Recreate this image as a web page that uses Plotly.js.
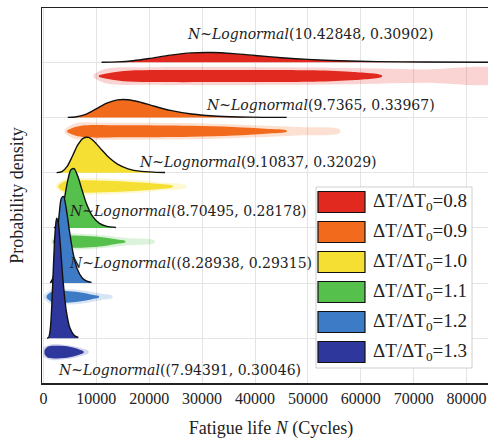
<!DOCTYPE html>
<html><head><meta charset="utf-8">
<script src="https://cdn.plot.ly/plotly-3.0.1.min.js"></script>
<style>html,body{margin:0;padding:0;overflow:hidden;background:#fff}#chart{width:500px;height:440px}</style>
</head><body><div id="chart"></div><script>
// ---- categories ----
const ratios = ['0.8', '0.9', '1.0', '1.1', '1.2', '1.3'];
const fitLabels = [
  '<i>N</i>~<i>Lognormal</i>(10.42848, 0.30902)',
  '<i>N</i>~<i>Lognormal</i>(9.7365, 0.33967)',
  '<i>N</i>~<i>Lognormal</i>(9.10837, 0.32029)',
  '<i>N</i>~<i>Lognormal</i>(8.70495, 0.28178)',
  '<i>N</i>~<i>Lognormal</i>((8.28938, 0.29315)',
  '<i>N</i>~<i>Lognormal</i>((7.94391, 0.30046)'
];
const xTicks = [0, 10000, 20000, 30000, 40000, 50000, 60000, 70000, 80000];

// ---- density curves (fatigue life, density x 1e-5) ----
const life_08 = [11000, 14000, 17000, 20000, 24000, 28000, 32000, 36000, 40000, 45000, 50000, 56000, 63000, 72000, 86000];
const dens_08 = [0.02, 0.16, 0.64, 1.52, 2.91, 3.83, 3.97, 3.51, 2.78, 1.87, 1.16, 0.61, 0.27, 0.09, 0.02];
const life_09 = [4600, 6000, 8000, 10000, 12000, 14000, 16000, 18000, 21000, 24000, 28000, 33000, 39000, 46000];
const dens_09 = [0.02, 0.19, 1.29, 3.54, 5.86, 7.18, 7.24, 6.42, 4.57, 2.88, 1.40, 0.52, 0.15, 0.03];
const life_10 = [2500, 3500, 4500, 5500, 6500, 7500, 8500, 9500, 11000, 12500, 14000, 16000, 18500, 23000];
const dens_10 = [0.02, 0.45, 2.60, 6.83, 11.31, 14.04, 14.39, 12.95, 9.37, 5.95, 3.49, 1.58, 0.55, 0.08];
const life_11 = [2000, 2800, 3400, 4000, 4600, 5200, 5800, 6500, 7300, 8200, 9300, 10600, 12000, 13700];
const dens_11 = [0.03, 1.24, 5.25, 12.22, 19.37, 23.70, 24.17, 21.03, 15.43, 9.54, 4.68, 1.81, 0.60, 0.15];
const life_12 = [1300, 1800, 2200, 2600, 3000, 3400, 3800, 4300, 4900, 5600, 6400, 7300, 8200, 9100];
const dens_12 = [0.07, 1.93, 7.99, 18.20, 28.47, 34.62, 35.36, 30.58, 21.61, 12.35, 5.73, 2.20, 0.80, 0.28];
const life_13 = [700, 1000, 1300, 1600, 1900, 2200, 2500, 2800, 3200, 3700, 4300, 5000, 5800, 6600];
const dens_13 = [0.00, 0.35, 3.71, 14.06, 29.54, 42.97, 49.05, 47.41, 37.95, 23.81, 11.49, 4.30, 1.28, 0.36];

// ---- sample "rain" (relative spread of the jittered samples along life) ----
const rainX_08 = [10500, 13000, 16000, 22000, 35000, 50000, 58000, 64000];
const rainS_08 = [0.15, 0.6, 0.9, 1, 1, 0.95, 0.7, 0.1];
const haloX_08 = [9500, 12000, 20000, 45000, 60000, 72000, 86000];
const haloS_08 = [0.3, 1.25, 1.45, 1.45, 1.3, 1.1, 1.0];
const rainX_09 = [4500, 6000, 8000, 15000, 28000, 36000, 42000, 46000];
const rainS_09 = [0.15, 0.7, 1, 1, 0.9, 0.7, 0.4, 0.1];
const haloX_09 = [4000, 6000, 12000, 30000, 40000, 48000, 56000];
const haloS_09 = [0.3, 1.3, 1.4, 1.3, 1.0, 0.7, 0.3];
const rainX_10 = [2800, 3800, 5500, 10000, 16000, 21000, 24500];
const rainS_10 = [0.15, 0.8, 1, 1, 0.8, 0.5, 0.1];
const haloX_10 = [2400, 4000, 9000, 17000, 22000, 27000];
const haloS_10 = [0.3, 1.3, 1.4, 1.1, 0.7, 0.2];
const rainX_11 = [1800, 2800, 4500, 8000, 11500, 14000, 15500];
const rainS_11 = [0.15, 0.8, 1, 0.95, 0.7, 0.35, 0.1];
const haloX_11 = [1500, 3000, 7000, 12000, 16000, 21000];
const haloS_11 = [0.3, 1.3, 1.3, 1.0, 0.6, 0.2];
const rainX_12 = [600, 1500, 3000, 5500, 8000, 9500, 10500];
const rainS_12 = [0.2, 0.8, 1, 0.9, 0.6, 0.3, 0.1];
const haloX_12 = [100, 1500, 4000, 8000, 11000, 13000];
const haloS_12 = [0.3, 1.2, 1.3, 1.0, 0.5, 0.2];
const rainX_13 = [200, 800, 2000, 4000, 5800, 7000, 7600];
const rainS_13 = [0.3, 0.9, 1.05, 1, 0.7, 0.35, 0.1];
const haloX_13 = [0, 1500, 4000, 6500, 8500];
const haloS_13 = [0.8, 1.3, 1.2, 0.8, 0.2];

// ---- styling ----
const colors = ['#E2291F', '#F26B1D', '#F6DF33', '#56C04C', '#3E7BC6', '#2E379C'];
const haloColors = ['rgba(226,41,31,0.2)', 'rgba(242,107,29,0.2)', 'rgba(246,223,51,0.22)',
                    'rgba(86,192,76,0.2)', 'rgba(62,123,198,0.2)', 'rgba(46,55,156,0.2)'];
const SERIF = '"Liberation Serif", "Times New Roman", serif';
const LABEL_FONT = '"DejaVu Serif", serif';
const S = 0.04438;   // ridge units per 1e-5 density
const H = 0.109;     // ridge units per unit rain spread
const RAIN_OFF = 0.25;

const lifes = [life_08, life_09, life_10, life_11, life_12, life_13];
const denss = [dens_08, dens_09, dens_10, dens_11, dens_12, dens_13];
const rainXs = [rainX_08, rainX_09, rainX_10, rainX_11, rainX_12, rainX_13];
const rainSs = [rainS_08, rainS_09, rainS_10, rainS_11, rainS_12, rainS_13];
const haloXs = [haloX_08, haloX_09, haloX_10, haloX_11, haloX_12, haloX_13];
const haloSs = [haloS_08, haloS_09, haloS_10, haloS_11, haloS_12, haloS_13];

function band(xs, sp, c) {
  const X = xs.concat(xs.slice().reverse());
  const up = xs.map((x, i) => c + sp[i] * H);
  const lo = xs.map((x, i) => c - sp[i] * H).reverse();
  return {X: X, Y: up.concat(lo)};
}

const traces = [];
ratios.forEach((r, i) => {
  const base = ratios.length - 1 - i;
  const c = base - RAIN_OFF;
  const hb = band(haloXs[i], haloSs[i], c);
  traces.push({x: hb.X, y: hb.Y, mode: 'lines', fill: 'toself', fillcolor: haloColors[i],
    line: {width: 0, shape: 'spline'}, showlegend: false, hoverinfo: 'skip'});
  const rb = band(rainXs[i], rainSs[i], c);
  traces.push({x: rb.X, y: rb.Y, mode: 'lines', fill: 'toself', fillcolor: colors[i],
    line: {width: 0, shape: 'spline'}, showlegend: false, hoverinfo: 'skip'});
  const L = lifes[i];
  traces.push({x: [L[0], L[L.length - 1]], y: [base, base], mode: 'lines',
    line: {width: 0}, showlegend: false, hoverinfo: 'skip'});
  traces.push({x: L, y: denss[i].map(d => base + d * S), mode: 'lines', fill: 'tonexty',
    fillcolor: colors[i], line: {color: '#111', width: 1.4, shape: 'spline', smoothing: 0.8},
    name: 'ΔT/ΔT0=' + r, showlegend: false});
});

// label positions (data coords)
const labelPos = [[26800, 5.51], [30300, 4.23], [17700, 3.19], [4450, 2.31], [4450, 1.36], [2370, -0.57]];
const annotations = fitLabels.map((t, i) => ({
  x: labelPos[i][0], y: labelPos[i][1], xref: 'x', yref: 'y', text: t, showarrow: false,
  xanchor: 'left', yanchor: 'middle', font: {family: LABEL_FONT, size: 14, color: '#222'}
}));

// custom legend
const shapes = [{type: 'rect', xref: 'paper', yref: 'paper', x0: 0.5983, x1: 0.9389, y0: 0.04, y1: 0.5227,
  fillcolor: '#fff', line: {color: '#cfcfcf', width: 1}, layer: 'above'}];
ratios.forEach((r, i) => {
  const cy = (383 - (202 + 30 * i)) / 375;
  const hh = 10.5 / 375;
  shapes.push({type: 'rect', xref: 'paper', yref: 'paper', x0: 0.6026, x1: 0.7052, y0: cy - hh, y1: cy + hh,
    fillcolor: colors[i], line: {color: '#111', width: 1.2}, layer: 'above'});
  annotations.push({x: 0.7183, y: cy, xref: 'paper', yref: 'paper', xanchor: 'left', yanchor: 'middle',
    showarrow: false, text: 'ΔT/ΔT<sub>0</sub>=' + r, font: {family: SERIF, size: 19, color: '#222'}});
});

const layout = {
  width: 500, height: 440,
  margin: {l: 42, r: 0, t: 8, b: 57},
  font: {family: SERIF, size: 16, color: '#222'},
  paper_bgcolor: '#fff', plot_bgcolor: '#fff',
  showlegend: false,
  xaxis: {range: [-265, 86313], tickvals: xTicks, ticktext: xTicks.map(String), ticks: '',
    showgrid: true, gridcolor: '#e4e4e4', gridwidth: 1, zeroline: false,
    showline: true, linecolor: '#222', linewidth: 1.5, mirror: true,
    tickfont: {family: SERIF, size: 16, color: '#222'},
    title: {text: 'Fatigue life <i>N</i> (Cycles)', font: {family: SERIF, size: 18, color: '#222'}, standoff: 15}},
  yaxis: {range: [-0.81, 5.983], tickvals: [0, 1, 2, 3, 4, 5], showticklabels: false, ticks: '',
    showgrid: true, gridcolor: '#e4e4e4', gridwidth: 1, zeroline: false,
    showline: true, linecolor: '#222', linewidth: 1.5, mirror: true,
    title: {text: 'Probability density', font: {family: SERIF, size: 18, color: '#222'}, standoff: 12}},
  annotations: annotations,
  shapes: shapes
};
Plotly.newPlot('chart', traces, layout, {staticPlot: true, displayModeBar: false});
</script></body></html>
